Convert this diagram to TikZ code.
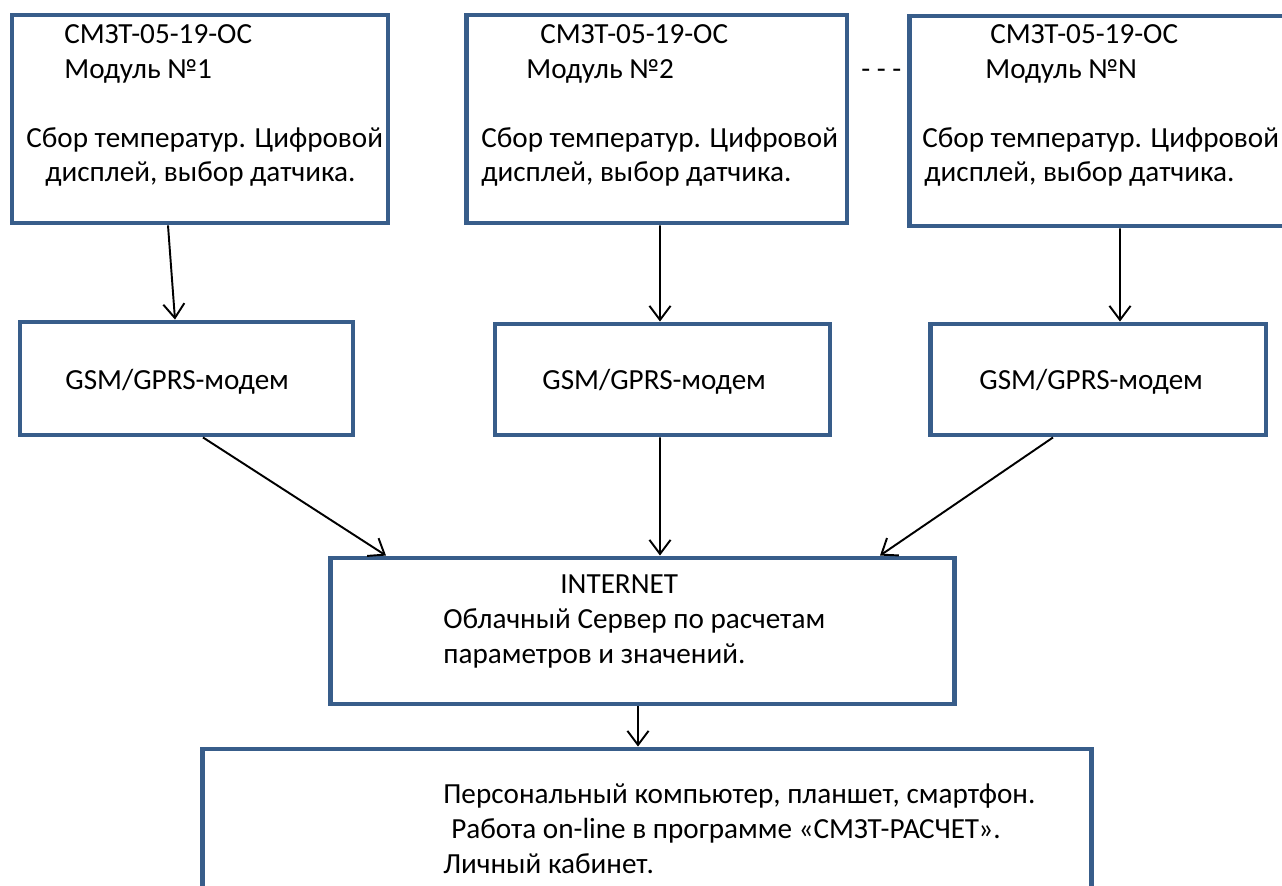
\documentclass[tikz,border=0pt]{standalone}
\usepackage{fontspec}
\setmainfont{Carlito}
\usetikzlibrary{calc,arrows.meta}
\definecolor{boxblue}{HTML}{385D8A}
\tikzset{
    bloc/.style={draw=boxblue,line width=2.8pt,inner sep=0pt},
    texte/.style={anchor=base west,inner sep=0pt,font=\fontsize{16.6}{20}\selectfont},
    fleche/.style={-{Straight Barb[length=8pt,width=12pt]},line width=1.1pt},
  }
\begin{document}
\begin{tikzpicture}[x=0.02cm,y=-0.02cm]
				  \useasboundingbox (0,0) rectangle (1282,886);
				  %MODULES 1,2,N
				  \node[bloc,minimum width=7.52cm,minimum height=4.16cm](M1) at (200,119){};
				  \node[bloc,minimum width=7.62cm,minimum height=4.16cm](M2) at (656.5,119){};
				  \node[bloc,minimum width=7.62cm,minimum height=4.2cm](M3) at (1099.5,121){};
				  \node[texte](t11) at (64,43){СМЗТ-05-19-ОС};
				  \node[texte](t12) at (64,78){Модуль №1};
				  \node[texte](t13) at (26,147){Сбор температур. Цифровой};
				  \node[texte](t14) at (45,181){дисплей, выбор датчика.};
				  \node[texte](t21) at (540,43){СМЗТ-05-19-ОС};
				  \node[texte](t22) at (526,78){Модуль №2};
				  \node[texte](t23) at (481,147){Сбор температур. Цифровой};
				  \node[texte](t24) at (481,181){дисплей, выбор датчика.};
				  \node[texte](t31) at (990,43){СМЗТ-05-19-ОС};
				  \node[texte](t32) at (985,78){Модуль №N};
				  \node[texte](t33) at (922,147){Сбор температур. Цифровой};
				  \node[texte](t34) at (924,181){дисплей, выбор датчика.};
				  \node[texte](pts) at (861,78){- - -};
				  
				  %MODEMS
				  \node[bloc,minimum width=6.66cm,minimum height=2.26cm](G1) at (186.5,378.5){};
				  \node[bloc,minimum width=6.7cm,minimum height=2.22cm](G2) at (662.5,379.5){};
				  \node[bloc,minimum width=6.72cm,minimum height=2.22cm](G3) at (1098,379.5){};
				  \node[texte](g1) at (65,389){GSM/GPRS-модем};
				  \node[texte](g2) at (542,389){GSM/GPRS-модем};
				  \node[texte](g3) at (979,389){GSM/GPRS-модем};
				  
				  %INTERNET
				  \node[bloc,minimum width=12.5cm,minimum height=2.92cm](I) at (642.5,631){};
				  \node[texte](i1) at (560,593){INTERNET};
				  \node[texte](i2) at (443,628){Облачный Сервер по расчетам};
				  \node[texte](i3) at (443,663){параметров и значений.};
				  
				  %PC
				  \node[bloc,minimum width=17.8cm,minimum height=3.62cm](P) at (647,839.5){};
				  \node[texte](p1) at (443,803){Персональный компьютер, планшет, смартфон.};
				  \node[texte](p2) at (451,838){Работа on-line в программе «СМЗТ-РАСЧЕТ».};
				  \node[texte](p3) at (443,873){Личный кабинет.};
				  
				  %FLECHES
				  \draw[fleche] ($(M1.south)+(-32,0)$) -- ($(G1.north)+(-11.5,0)$);
				  \draw[fleche] ($(M2.south)+(3.5,0)$) -- ($(G2.north)+(-2.5,0)$);
				  \draw[fleche] ($(M3.south)+(20.5,0)$) -- ($(G3.north)+(22,0)$);
				  \draw[fleche] ($(G1.south)+(16.5,0)$) -- ($(I.north)+(-256.5,0)$);
				  \draw[fleche] ($(G2.south)+(-2.5,0)$) -- ($(I.north)+(17.5,0)$);
				  \draw[fleche] ($(G3.south)+(-45,0)$) -- ($(I.north)+(237.5,0)$);
				  \draw[fleche] ($(I.south)+(-4.5,0)$) -- ($(P.north)+(-9,0)$);
				  \end{tikzpicture}
\end{document}
